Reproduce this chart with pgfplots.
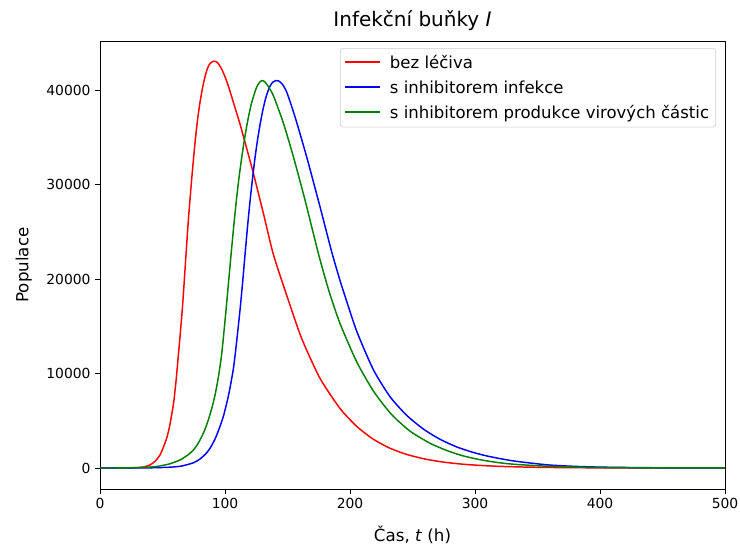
\documentclass[border=0pt]{standalone}
\usepackage{pgfplots}
\pgfplotsset{compat=1.18}
\usepackage{fontspec}
\setmainfont{DejaVu Sans}
\definecolor{mplgreen}{rgb}{0,0.5,0}
\definecolor{mplblue}{rgb}{0,0,1}
\definecolor{mplred}{rgb}{1,0,0}
\pgfplotsset{legend image code/.code={\draw[#1, line width=1.2pt] (0pt,0.5pt) -- (26pt,0.5pt); \path (31pt,0pt);}}
\pgfplotstableread{
t v
0 0
20 5
30 40
35 110
40 320
44 700
48 1380
51 2300
53.3 3140
55.5 4300
57.3 5610
59 7000
60.9 9300
62.7 11960
64.4 14500
66.1 17250
68.8 22540
70.7 26240
73.3 30480
76 34400
78 36800
80 38700
82 40200
84 41400
86 42300
88 42800
91 43050
94 42900
97 42300
100 41400
103 40300
106 39000
109 37700
112 36400
116 34480
122.7 31180
130.7 26950
138.7 22600
149.3 18300
161.3 13720
176 9490
192 6300
205 4450
218 3100
231 2150
245 1450
260 950
275 620
290 405
305 265
320 173
340 99
360 56
380 32
400 18
450 4
500 1
}\redtab
\pgfplotstableread{
t v
0 0
20 5
40 20
55 80
65 200
74.7 550
80 950
85.3 1600
89 2300
92.5 3200
96 4400
99 5610
103 7800
106.7 10500
109 13000
112 16700
114 19500
116 22540
118 25500
120 28200
122 30600
124 32800
126 34700
128 36300
130 37700
132 38850
134 39750
136 40400
138 40800
140.8 41000
143 40950
146 40600
149.3 39800
153 38400
157.3 36600
165.3 32940
176 27650
185.3 22900
192 19850
195 18600
205.3 14500
218.7 10400
232 7550
245.3 5580
258.7 4120
272 3040
285 2250
298 1670
311 1230
330.7 750
357.3 340
378.7 180
400 95
430 40
460 16
500 5
}\bluetab
\pgfplotstableread{
t v
0 0
20 10
40 100
48 220
56 450
64 850
70 1350
74.7 1900
78 2500
81.3 3300
84 4100
86.7 5100
89.3 6250
92 7700
94.7 9600
97.3 12000
99.3 14600
101.3 17400
103 19900
105 22800
107 25600
109 28200
111 30500
113 32500
115 34300
117 35900
119 37300
121 38500
123 39400
125 40200
127 40700
129.3 41000
131.5 40900
134 40500
138.7 39400
146.7 36500
154.7 32940
164 28360
174.7 22700
183 18800
192 15300
205.3 11250
218.7 8150
233 5700
248 3900
264 2620
277.3 1860
290 1300
304 880
317 600
330.7 400
357.3 190
380 100
400 55
430 23
460 10
500 3
}\greentab
\begin{document}
\begin{tikzpicture}
\path[use as bounding box] (-75pt,-43.5pt) rectangle (480pt,366.75pt);
\begin{axis}[
  scale only axis, width=468.75pt, height=336pt,
  at={(0,0)}, anchor=south west,
  xmin=0, xmax=500, ymin=-2222, ymax=45185,
  xtick={0,100,200,300,400,500},
  ytick={0,10000,20000,30000,40000},
  scaled y ticks=false, scaled x ticks=false,
  /pgf/number format/assume math mode=true,
  /pgf/number format/1000 sep={},
  tick align=outside, tick pos=left,
  major tick length=3.6pt,
  tick style={black, line width=0.6pt},
  axis line style={line width=0.6pt},
  ticklabel style={font=\fontsize{10.4}{12}\selectfont},
  title={Infekční buňky \textit{I}},
  title style={font=\fontsize{15}{18}\selectfont, yshift=-1.5pt},
  xlabel={Čas, \textit{t} (h)},
  ylabel={Populace},
  label style={font=\fontsize{12.5}{15}\selectfont},
  xlabel style={yshift=-6pt},
  ylabel style={yshift=4pt},
  legend style={at={(0.9856,0.984)}, anchor=north east, draw=black!20, rounded corners=2pt,
    font=\fontsize{12.4}{14}\selectfont, inner sep=3pt, row sep=3.6pt, cells={anchor=west}},
  legend cell align=left,
]
\addplot[color=mplred, line width=1.1pt, smooth, tension=0.4] table[x=t,y=v] {\redtab};
\addlegendentry{bez léčiva}
\addplot[color=mplblue, line width=1.1pt, smooth, tension=0.4] table[x=t,y=v] {\bluetab};
\addlegendentry{s inhibitorem infekce}
\addplot[color=mplgreen, line width=1.1pt, smooth, tension=0.4] table[x=t,y=v] {\greentab};
\addlegendentry{s inhibitorem produkce virových částic}
\end{axis}
\end{tikzpicture}
\end{document}
